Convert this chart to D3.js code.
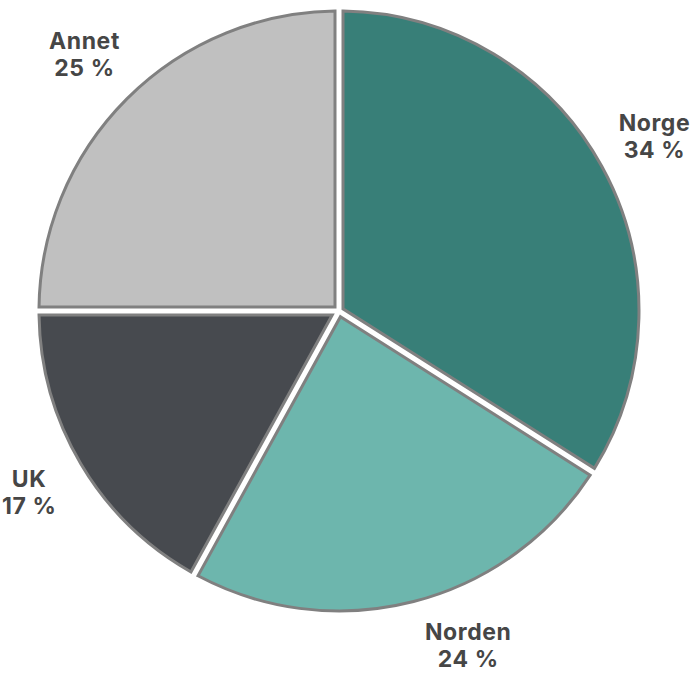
<!DOCTYPE html>
<html>
<head>
<meta charset="utf-8">
<script src="https://cdn.jsdelivr.net/npm/d3@7"></script>
<style>
  body { margin: 0; background: #fff; }
  .label { font-family: Inter, Roboto, sans-serif; font-weight: 700; font-size: 23px; fill: #464646; letter-spacing: 0.6px; }
</style>
</head>
<body>
<script>
// pie data: share of total, clockwise from 12 o'clock
var categories = ["Norge", "Norden", "UK", "Annet"];
var shares = [34, 24, 17, 25];
var colors = ["#387f78", "#6db6ad", "#474a4f", "#c0c0c0"];

var width = 700,
    height = 675,
    cx = 339,
    cy = 311,
    radius = 300,
    halfGap = 4,       // white gap between slices (each side)
    labelR = 360,
    lineH = 27;

var svg = d3.select("body").append("svg")
    .attr("width", width)
    .attr("height", height);

var g = svg.append("g")
    .attr("transform", "translate(" + cx + "," + cy + ")");

var pie = d3.pie()
    .sort(null)
    .value(function(d) { return d; });

var arcs = pie(shares);

// slice with parallel-sided gaps: both straight edges pulled in by halfGap
function slicePath(d) {
    var a0 = d.startAngle, a1 = d.endAngle,
        mid = (a0 + a1) / 2,
        half = (a1 - a0) / 2,
        k = halfGap / Math.sin(half),
        da = Math.asin(halfGap / radius),
        p = d3.path();
    // d3 angles: 0 at 12 o'clock, clockwise
    p.moveTo(k * Math.sin(mid), -k * Math.cos(mid));
    p.lineTo(radius * Math.sin(a0 + da), -radius * Math.cos(a0 + da));
    p.arc(0, 0, radius, a0 + da - Math.PI / 2, a1 - da - Math.PI / 2);
    p.closePath();
    return p.toString();
}

g.selectAll("path.slice")
    .data(arcs)
  .enter().append("path")
    .attr("class", "slice")
    .attr("d", slicePath)
    .attr("fill", function(d, i) { return colors[i]; })
    .attr("stroke", "#808080")
    .attr("stroke-width", 3)
    .attr("stroke-linejoin", "miter");

var labelArc = d3.arc()
    .innerRadius(labelR)
    .outerRadius(labelR);

// keep labels inside the frame by sliding them along the label circle
var maxY = height - cy - 28;
function labelPos(d) {
    var c = labelArc.centroid(d);
    if (c[1] > maxY) {
        c[1] = maxY;
        c[0] = (c[0] < 0 ? -1 : 1) * Math.sqrt(labelR * labelR - maxY * maxY);
    }
    return c;
}

var labels = g.selectAll("text.label")
    .data(arcs)
  .enter().append("text")
    .attr("class", "label")
    .attr("text-anchor", "middle")
    .attr("transform", function(d) {
        var c = labelPos(d);
        return "translate(" + c[0] + "," + c[1] + ")";
    });

labels.append("tspan")
    .attr("x", 0)
    .attr("y", 20 - lineH)
    .text(function(d, i) { return categories[i]; });

labels.append("tspan")
    .attr("x", 0)
    .attr("y", 20)
    .text(function(d) { return d.data + " %"; });
</script>
</body>
</html>
